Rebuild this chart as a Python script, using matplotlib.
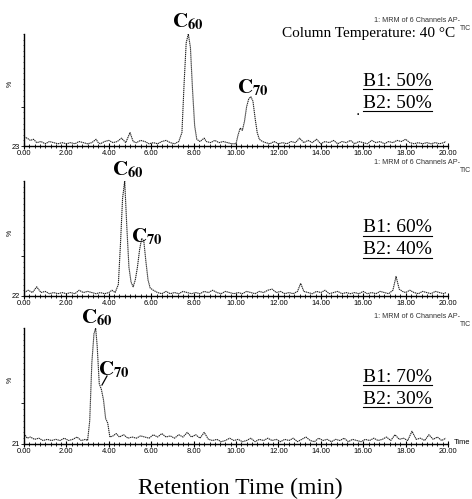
import matplotlib
matplotlib.use("Agg")
import matplotlib.pyplot as plt
from matplotlib.lines import Line2D
from matplotlib.ticker import MultipleLocator, FixedLocator

plt.rcParams['mathtext.fontset'] = 'stix'

W, H = 472, 499

# ---------------- data (retention time in min, relative intensity %) ----------------
t1 = [0.0, 0.15, 0.3, 0.45, 0.6, 0.8, 1.0, 1.2, 1.4, 1.6,
      1.8, 2.0, 2.2, 2.4, 2.6, 2.8, 3.0, 3.2, 3.4, 3.5,
      3.6, 3.8, 4.0, 4.2, 4.4, 4.6, 4.8, 5.0, 5.15, 5.3,
      5.5, 5.7, 5.9, 6.1, 6.3, 6.5, 6.7, 6.9, 7.1, 7.3,
      7.45, 7.55, 7.65, 7.75, 7.85, 7.95, 8.05, 8.15, 8.3, 8.5,
      8.6, 8.8, 9.0, 9.2, 9.4, 9.6, 9.8, 10.0, 10.1, 10.2,
      10.3, 10.4, 10.5, 10.6, 10.7, 10.8, 10.9, 11.0, 11.1, 11.25,
      11.4, 11.6, 11.8, 12.0, 12.2, 12.4, 12.6, 12.8, 13.0, 13.2,
      13.4, 13.6, 13.8, 14.0, 14.2, 14.4, 14.6, 14.8, 15.0, 15.2,
      15.4, 15.6, 15.8, 16.0, 16.2, 16.4, 16.6, 16.8, 17.0, 17.2,
      17.4, 17.6, 17.8, 18.0, 18.2, 18.4, 18.6, 18.8, 19.0, 19.2,
      19.4, 19.6, 19.8, 19.9]
y1 = [8, 7, 5, 6, 3, 4, 2, 4, 3, 2,
      3, 2, 3, 2, 4, 3, 2, 3, 6, 3,
      2, 4, 5, 3, 4, 7, 3, 12, 4, 3,
      5, 4, 2, 3, 2, 4, 5, 3, 2, 4,
      12, 55, 92, 100, 88, 50, 18, 6, 4, 7,
      4, 3, 5, 3, 4, 3, 2, 2, 10, 16,
      14, 22, 35, 42, 44, 40, 25, 12, 6, 4,
      3, 2, 4, 2, 3, 2, 4, 3, 7, 3,
      5, 3, 6, 2, 4, 3, 5, 2, 4, 3,
      5, 2, 4, 3, 2, 5, 3, 4, 2, 4,
      3, 5, 4, 6, 3, 2, 3, 2, 3, 2,
      3, 2, 3, 4]

t2 = [0.0, 0.2, 0.4, 0.6, 0.8, 1.0, 1.2, 1.4, 1.6, 1.8,
      2.0, 2.2, 2.4, 2.6, 2.8, 3.0, 3.2, 3.4, 3.6, 3.8,
      4.0, 4.15, 4.3, 4.45, 4.55, 4.65, 4.75, 4.85, 4.95, 5.05,
      5.15, 5.25, 5.35, 5.45, 5.55, 5.65, 5.75, 5.85, 5.95, 6.1,
      6.3, 6.5, 6.7, 6.9, 7.1, 7.3, 7.5, 7.7, 7.9, 8.1,
      8.3, 8.5, 8.7, 8.9, 9.1, 9.3, 9.5, 9.7, 9.9, 10.1,
      10.3, 10.5, 10.7, 10.9, 11.1, 11.3, 11.5, 11.7, 11.9, 12.1,
      12.3, 12.5, 12.7, 12.9, 13.05, 13.2, 13.4, 13.6, 13.8, 14.0,
      14.2, 14.4, 14.6, 14.8, 15.0, 15.2, 15.4, 15.6, 15.8, 16.0,
      16.2, 16.4, 16.6, 16.8, 17.0, 17.2, 17.4, 17.55, 17.7, 17.85,
      18.0, 18.2, 18.4, 18.6, 18.8, 19.0, 19.2, 19.4, 19.6, 19.8,
      19.9]
y2 = [3, 5, 3, 8, 3, 4, 2, 3, 2, 3,
      2, 3, 2, 5, 3, 4, 3, 2, 3, 2,
      3, 5, 3, 10, 45, 85, 100, 60, 25, 12,
      8, 14, 25, 40, 50, 48, 30, 14, 7, 5,
      3, 2, 4, 2, 3, 2, 4, 3, 2, 3,
      2, 4, 3, 5, 3, 2, 4, 3, 2, 3,
      2, 4, 3, 2, 4, 3, 5, 6, 3, 4,
      2, 3, 2, 4, 11, 4, 3, 2, 4, 3,
      5, 2, 3, 4, 2, 3, 2, 3, 2, 4,
      2, 3, 2, 4, 3, 2, 5, 17, 6, 4,
      3, 5, 3, 2, 4, 3, 2, 4, 3, 2,
      3]

t3 = [0.0, 0.15, 0.3, 0.5, 0.7, 0.9, 1.1, 1.3, 1.5, 1.7,
      1.9, 2.1, 2.3, 2.5, 2.7, 2.9, 3.0, 3.1, 3.2, 3.3,
      3.38, 3.45, 3.55, 3.65, 3.75, 3.85, 3.95, 4.05, 4.2, 4.35,
      4.5, 4.7, 4.9, 5.1, 5.3, 5.5, 5.7, 5.9, 6.1, 6.3,
      6.5, 6.7, 6.9, 7.1, 7.3, 7.5, 7.7, 7.9, 8.1, 8.3,
      8.5, 8.7, 8.9, 9.1, 9.3, 9.5, 9.7, 9.9, 10.1, 10.3,
      10.5, 10.7, 10.9, 11.1, 11.3, 11.5, 11.7, 11.9, 12.1, 12.3,
      12.5, 12.7, 12.9, 13.1, 13.3, 13.5, 13.7, 13.9, 14.1, 14.3,
      14.5, 14.7, 14.9, 15.1, 15.3, 15.5, 15.7, 15.9, 16.1, 16.3,
      16.5, 16.7, 16.9, 17.1, 17.3, 17.5, 17.7, 17.9, 18.1, 18.3,
      18.5, 18.7, 18.9, 19.1, 19.3, 19.5, 19.7, 19.9]
y3 = [9, 5, 6, 4, 5, 3, 4, 3, 4, 3,
      5, 3, 4, 6, 3, 4, 3, 20, 70, 95,
      100, 85, 52, 47, 38, 22, 18, 6, 7, 9,
      6, 8, 5, 6, 5, 7, 6, 5, 8, 6,
      9, 6, 7, 5, 8, 6, 10, 6, 8, 5,
      10, 4, 3, 4, 2, 3, 5, 3, 4, 2,
      3, 5, 2, 4, 3, 5, 3, 4, 2, 4,
      3, 5, 2, 4, 6, 3, 2, 5, 3, 4,
      2, 4, 3, 5, 2, 4, 3, 2, 4, 3,
      5, 3, 4, 6, 3, 8, 4, 5, 3, 11,
      4, 5, 3, 8, 4, 6, 3, 5]

series = [(t1, y1), (t2, y2), (t3, y3)]
baseline_labels = ["23", "22", "21"]
mobile_b1 = ["B1: 50%", "B1: 60%", "B1: 70%"]
mobile_b2 = ["B2: 50%", "B2: 40%", "B2: 30%"]
xtick_labels = ["0.00", "2.00", "4.00", "6.00", "8.00", "10.00", "12.00",
                "14.00", "16.00", "18.00", "20.00"]
header = "1: MRM of 6 Channels AP-"

# ---------------- layout (pixel boxes: top, bottom) ----------------
panels_px = [(34, 146), (181, 296), (328, 444)]
x_left, x_right = 24, 448

fig = plt.figure(figsize=(W / 100, H / 100), dpi=100)
fig.patch.set_facecolor('white')


def fx(x):
    return x / W


def fy(y):
    return 1 - y / H


axes = []
for i, ((top, bot), (t, y)) in enumerate(zip(panels_px, series)):
    ax = fig.add_axes([fx(x_left), fy(bot), (x_right - x_left) / W, (bot - top) / H])
    ax.plot(t, y, color='#222222', lw=0.8, ls=(0, (1.2, 0.6)))
    ax.set_xlim(0, 20)
    ax.set_ylim(0, 100)
    for s in ['top', 'right']:
        ax.spines[s].set_visible(False)
    ax.spines['left'].set_linewidth(1.0)
    ax.spines['bottom'].set_linewidth(1.0)
    ax.xaxis.set_minor_locator(MultipleLocator(0.25))
    ax.set_xticks(range(0, 21, 2))
    ax.set_xticklabels(xtick_labels, fontsize=5.4, family='Liberation Sans')
    ax.tick_params(axis='x', which='major', direction='inout', length=4, width=0.8, pad=1)
    ax.tick_params(axis='x', which='minor', direction='inout', length=2.5, width=0.6)
    ax.yaxis.set_major_locator(FixedLocator([0, 35]))
    ax.yaxis.set_minor_locator(MultipleLocator(5))
    ax.set_yticklabels([baseline_labels[i], ""], fontsize=5.4, family='Liberation Sans')
    ax.tick_params(axis='y', which='major', direction='out', length=2, width=0.6, pad=1)
    ax.tick_params(axis='y', which='minor', direction='out', length=1, width=0.4)
    axes.append(ax)

# y labels "%"
for (top, bot) in panels_px:
    fig.text(fx(10), fy((top + bot) / 2 - 6), "%", fontsize=5, rotation=90,
             ha='center', va='center', family='Liberation Sans')

# headers "1: MRM of 6 Channels AP-" / "TIC"
for yh in [20, 162, 316]:
    fig.text(fx(460), fy(yh), header, fontsize=5.2, ha='right', va='center',
             family='Liberation Sans', color='#333333')
    fig.text(fx(471), fy(yh + 8), "TIC", fontsize=5.0, ha='right', va='center',
             family='Liberation Sans', color='#333333')

fig.text(fx(455), fy(34), "Column Temperature: 40 \u00b0C", fontsize=11.0,
         ha='right', va='center', family='Liberation Serif')

# peak labels
c60 = r'$\mathbf{C}_{\mathbf{60}}$'
c70 = r'$\mathbf{C}_{\mathbf{70}}$'
peak_labels = [(188, 22, c60), (253, 88, c70),
               (128, 170, c60), (147, 237, c70),
               (97, 318, c60), (114, 370, c70)]
for x, y, s in peak_labels:
    fig.text(fx(x), fy(y), s, fontsize=15, ha='center', va='center')
fig.add_artist(Line2D([fx(102), fx(107)], [fy(385), fy(376)], color='black', lw=0.9))

# mobile-phase labels (underlined)
fig.canvas.draw()
renderer = fig.canvas.get_renderer()
label_y = [(82, 103), (228, 250), (377, 399)]
for (ya, yb), s1, s2 in zip(label_y, mobile_b1, mobile_b2):
    for yy, s in [(ya, s1), (yb, s2)]:
        txt = fig.text(fx(363), fy(yy), s, fontsize=14, ha='left', va='center',
                       family='Liberation Serif')
        bb = txt.get_window_extent(renderer)
        uy = (bb.y0 + 1) / H
        fig.add_artist(Line2D([bb.x0 / W, bb.x1 / W], [uy, uy],
                              color='black', lw=0.8))

# stray dot in panel 1
fig.text(fx(358), fy(118), ".", fontsize=10, ha='center', va='bottom')

fig.text(fx(462), fy(442), "Time", fontsize=5.4, ha='center', va='center',
         family='Liberation Sans')

fig.text(fx(240), fy(488), "Retention Time (min)", fontsize=17, ha='center',
         va='center', family='Liberation Serif')

fig.savefig("out.png", dpi=100, facecolor='white')
